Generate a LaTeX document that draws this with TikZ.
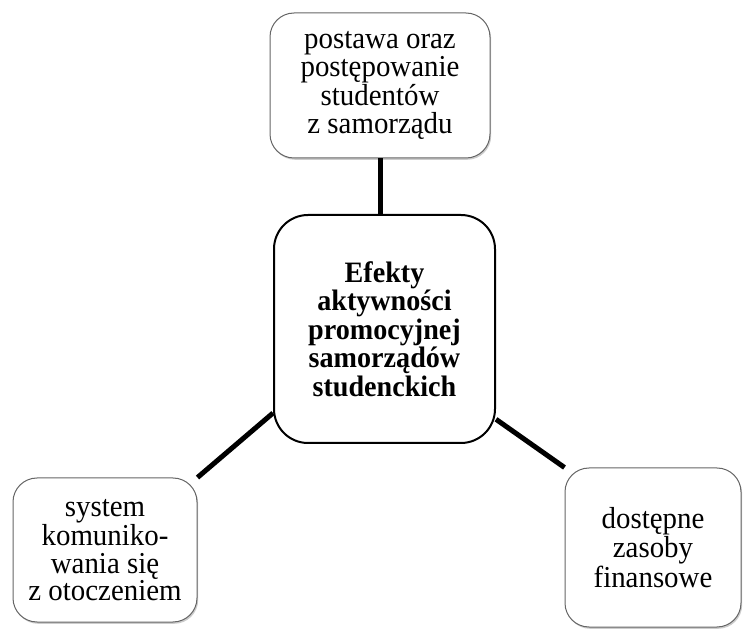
\documentclass[tikz,border=0pt]{standalone}
\usepackage{fontspec}
\setmainfont[FakeStretch=0.95]{Liberation Serif}
\usetikzlibrary{shadows}
\newcommand\boxfont{\fontsize{15.2}{13.7}\selectfont}
\newcommand\mainfont{\fontsize{14.8}{14.2}\selectfont\bfseries}
\begin{document}
\begin{tikzpicture}[x=0.5pt, y=-0.5pt,
    every node/.style={draw, fill=white, align=center, inner sep=0pt, font=\boxfont},
    outerbox/.style={rounded corners=12pt, draw=black!60, line width=0.5pt,
      drop shadow={shadow xshift=0.6pt, shadow yshift=-0.9pt, fill=black!40}},
    mainbox/.style={rounded corners=17pt, line width=1pt, font=\mainfont}]
  \useasboundingbox (0,0) rectangle (746,631);
  \node (postawa) at (380,85.5) [outerbox, minimum width=110pt, minimum height=72.5pt]
    {postawa oraz\\postępowanie\\studentów\\z samorządu};
  \node (efekty) at (384.5,329) [mainbox, minimum width=110.5pt, minimum height=114pt]
    {Efekty\\aktywności\\promocyjnej\\samorządów\\studenckich};
  \node (system) at (105,550) [outerbox, minimum width=92pt, minimum height=72pt]
    {system\\komuniko-\\wania się\\z otoczeniem};
  \node (zasoby) at (653,547.5) [outerbox, minimum width=88pt, minimum height=79.5pt]
    {dostępne\\zasoby\\finansowe};
  \coordinate (top) at (postawa.south |- efekty.north);
  \foreach \source/\dest in {postawa.south/top, system.north east/efekty.217, zasoby.north west/efekty.-39}
    \draw[line width=2.5pt] (\source) -- (\dest);
\end{tikzpicture}
\end{document}
